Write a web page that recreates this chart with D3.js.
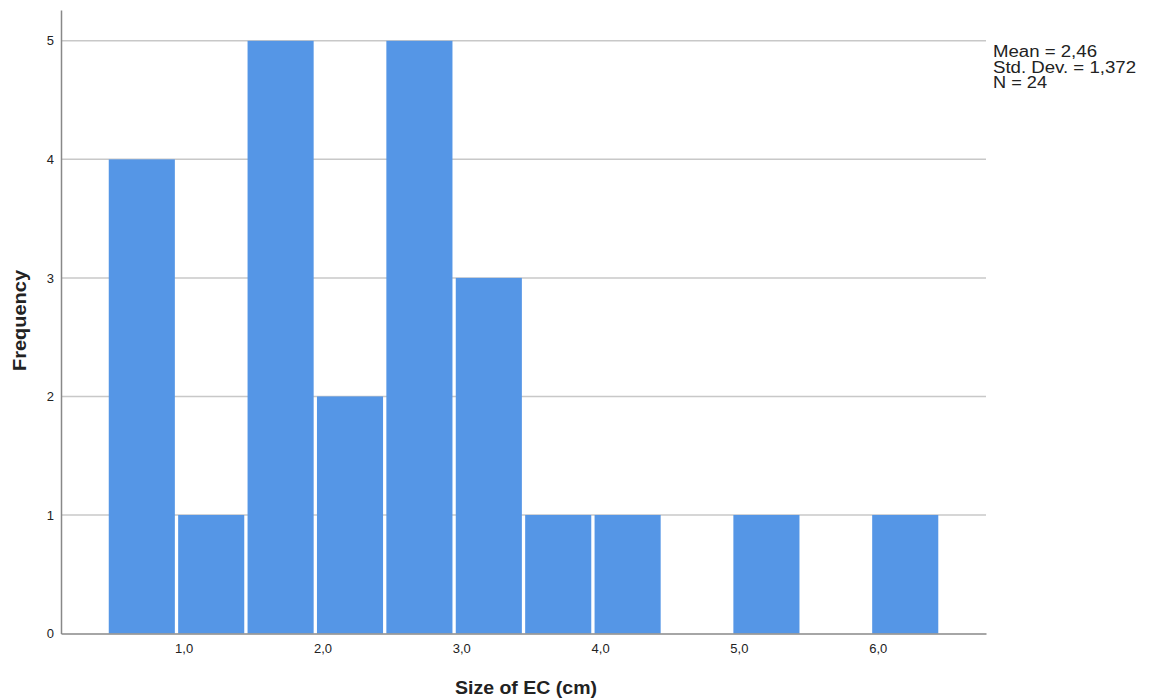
<!DOCTYPE html>
<html>
<head>
<meta charset="utf-8">
<script src="https://cdn.jsdelivr.net/npm/d3@7"></script>
<style>
  body { margin: 0; background: #fff; }
  text { font-family: "Liberation Sans", Arial, sans-serif; fill: #222; }
</style>
</head>
<body>
<div class="container"></div>
<script>
// Histogram data (bin start, bin end, frequency)
var binStarts = [0.5, 1.0, 1.5, 2.0, 2.5, 3.0, 3.5, 4.0, 4.5, 5.0, 5.5, 6.0];
var binWidth = 0.5;
var counts = [4, 1, 5, 2, 5, 3, 1, 1, 0, 1, 0, 1];
var xTicks = [1, 2, 3, 4, 5, 6];
var yTicks = [0, 1, 2, 3, 4, 5];
var stats = ["Mean = 2,46", "Std. Dev. = 1,372", "N = 24"];

var svgWidth = 1152;
var svgHeight = 699;

var margin = { top: 10, right: 166, bottom: 65, left: 61 };
var width = svgWidth - margin.left - margin.right;
var height = 633.5 - margin.top;

var svg = d3.select(".container")
  .append("svg")
  .attr("width", svgWidth)
  .attr("height", svgHeight);

var chartGroup = svg.append("g")
  .attr("transform", `translate(${margin.left}, ${margin.top})`);

var xScale = d3.scaleLinear()
  .domain([0.156, 6.82])
  .range([0, width]);

var yScale = d3.scaleLinear()
  .domain([0, 5.26])
  .range([height, 0]);

// gridlines
chartGroup.selectAll(".grid")
  .data(yTicks.filter(d => d > 0))
  .enter()
  .append("line")
  .attr("x1", 0)
  .attr("x2", width)
  .attr("y1", d => yScale(d))
  .attr("y2", d => yScale(d))
  .attr("stroke", "#c8c8c8")
  .attr("stroke-width", 1.5);

// bars
chartGroup.selectAll("rect")
  .data(binStarts.map((b, i) => ({ x0: b, x1: b + binWidth, n: counts[i] })).filter(d => d.n > 0))
  .enter()
  .append("rect")
  .attr("x", d => xScale(d.x0))
  .attr("width", d => xScale(d.x1) - xScale(d.x0) - 3.3)
  .attr("y", d => yScale(d.n))
  .attr("height", d => yScale(0) - yScale(d.n))
  .attr("fill", "#5596e6");

// axes
var bottomAxis = d3.axisBottom(xScale)
  .tickValues(xTicks)
  .tickSize(0)
  .tickPadding(10)
  .tickFormat(d => d3.format(".1f")(d).replace(".", ","));

var leftAxis = d3.axisLeft(yScale)
  .tickValues(yTicks)
  .tickSize(0)
  .tickPadding(7)
  .tickFormat(d3.format("d"));

var xAxis = chartGroup.append("g")
  .attr("transform", `translate(0, ${height})`)
  .call(bottomAxis);
xAxis.select(".domain").attr("stroke", "#888").attr("stroke-width", 1.5);
xAxis.selectAll("text")
  .attr("dx", 5.5)
  .style("font-size", "13px")
  .style("font-family", "'Liberation Sans', Arial, sans-serif")
  .attr("fill", "#222");

var yAxis = chartGroup.append("g")
  .call(leftAxis);
yAxis.select(".domain").attr("stroke", "#888").attr("stroke-width", 1.5);
yAxis.selectAll("text")
  .style("font-size", "13px")
  .style("font-family", "'Liberation Sans', Arial, sans-serif")
  .attr("fill", "#222");

// axis titles
svg.append("text")
  .attr("x", 526)
  .attr("y", 694)
  .attr("text-anchor", "middle")
  .attr("textLength", 142)
  .attr("lengthAdjust", "spacingAndGlyphs")
  .style("font-size", "18px")
  .style("font-weight", "bold")
  .text("Size of EC (cm)");

svg.append("text")
  .attr("transform", "rotate(-90)")
  .attr("x", -320.5)
  .attr("y", 26)
  .attr("text-anchor", "middle")
  .attr("textLength", 101)
  .attr("lengthAdjust", "spacingAndGlyphs")
  .style("font-size", "18px")
  .style("font-weight", "bold")
  .text("Frequency");

// stats box
var statWidths = [104, 143, 54];
svg.append("g")
  .selectAll("text")
  .data(stats)
  .enter()
  .append("text")
  .attr("x", 993)
  .attr("y", (d, i) => 57 + i * 15.5)
  .attr("textLength", (d, i) => statWidths[i])
  .attr("lengthAdjust", "spacingAndGlyphs")
  .style("font-size", "16px")
  .text(d => d);
</script>
</body>
</html>
